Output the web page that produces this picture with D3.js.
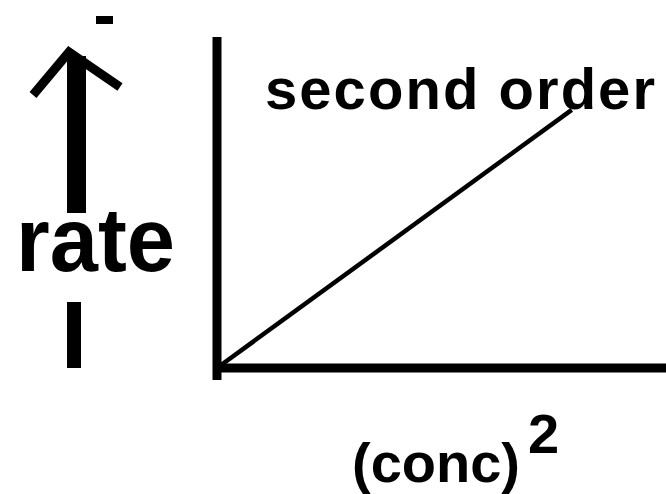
<!DOCTYPE html>
<html>
<head>
<meta charset="utf-8">
<script src="https://cdn.jsdelivr.net/npm/d3@7"></script>
<style>
  body { margin: 0; background: #fff; }
  text { font-family: "Liberation Sans", Arial, sans-serif; font-weight: bold; fill: #000; }
</style>
</head>
<body>
<div id="chart"></div>
<script>
// ----------------------
// Data
// ----------------------
const concSq = [0, 7.9];
const rate = [0, 7.8];
const axisMax = 10;

const W = 666, H = 494;

const svg = d3.select("#chart")
    .append("svg")
    .attr("width", W)
    .attr("height", H);

// ----------------------
// Scales
// ----------------------
const x = d3.scaleLinear().domain([0, axisMax]).range([217, 666]);
const y = d3.scaleLinear().domain([0, axisMax]).range([368, 37]);

// axes, thick black, no ticks
svg.append("line")
    .attr("x1", x(0)).attr("x2", x(0))
    .attr("y1", y(axisMax)).attr("y2", 380)
    .attr("stroke", "#000").attr("stroke-width", 9);

svg.append("line")
    .attr("x1", x(0) - 4).attr("x2", x(axisMax))
    .attr("y1", y(0)).attr("y2", y(0))
    .attr("stroke", "#000").attr("stroke-width", 9);

// the straight line
const pts = concSq.map((c, i) => [c, rate[i]]);
svg.append("path")
    .datum(pts)
    .attr("d", d3.line().x(d => x(d[0])).y(d => y(d[1])))
    .attr("fill", "none")
    .attr("stroke", "#000")
    .attr("stroke-width", 4.5);

// ----------------------
// Labels
// ----------------------
svg.append("text")
    .attr("x", 265).attr("y", 109)
    .attr("font-size", 58)
    .attr("textLength", 390)
    .attr("lengthAdjust", "spacing")
    .text("second order");

svg.append("text")
    .attr("x", 16).attr("y", 271)
    .attr("font-size", 91)
    .attr("textLength", 159)
    .attr("lengthAdjust", "spacingAndGlyphs")
    .text("rate");

const xl = svg.append("text")
    .attr("x", 352).attr("y", 482)
    .attr("font-size", 56);
xl.append("tspan").text("(conc)");
xl.append("tspan").attr("x", 528).attr("y", 453).text("2");

// up arrow beside the y label
svg.append("rect")
    .attr("x", 67).attr("y", 56).attr("width", 19).attr("height", 157)
    .attr("fill", "#000");
svg.append("path")
    .attr("d", "M33,95 L69,52 L120,87")
    .attr("fill", "none")
    .attr("stroke", "#000")
    .attr("stroke-width", 9);
svg.append("rect")
    .attr("x", 96).attr("y", 16).attr("width", 17).attr("height", 8)
    .attr("fill", "#000");
svg.append("rect")
    .attr("x", 67).attr("y", 302).attr("width", 14).attr("height", 66)
    .attr("fill", "#000");
</script>
</body>
</html>
